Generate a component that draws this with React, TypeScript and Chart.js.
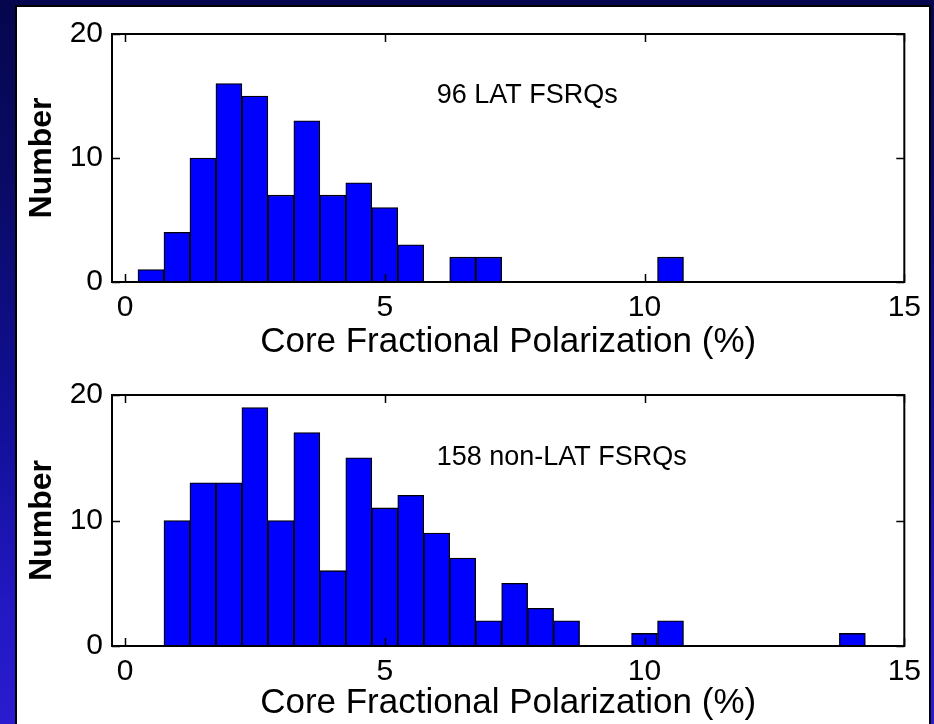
import { useEffect, useRef } from "react";
import { Chart, registerables } from "chart.js";

Chart.register(...registerables);

// Histogram bin centres (%), bins are 0.5% wide
const binCentres = [
  0.5, 1.0, 1.5, 2.0, 2.5, 3.0, 3.5, 4.0, 4.5, 5.0, 5.5, 6.0, 6.5, 7.0, 7.5,
  8.0, 8.5, 9.0, 9.5, 10.0, 10.5, 11.0, 11.5, 12.0, 12.5, 13.0, 13.5, 14.0, 14.5,
];

// Counts per bin, gamma-ray detected (LAT) FSRQs
const latCounts = [
  1, 4, 10, 16, 15, 7, 13, 7, 8, 6, 3, 0, 2, 2, 0,
  0, 0, 0, 0, 0, 2, 0, 0, 0, 0, 0, 0, 0, 0,
];

// Counts per bin, non-LAT FSRQs
const nonLatCounts = [
  0, 10, 13, 13, 19, 10, 17, 6, 15, 11, 12, 9, 7, 2, 5,
  3, 2, 0, 0, 1, 2, 0, 0, 0, 0, 0, 0, 1, 0,
];

const xTicks = [0, 5, 10, 15];
const yTicks = [0, 10, 20];

const xTitle = "Core Fractional Polarization (%)";
const yTitle = "Number";
const latLabel = "96 LAT FSRQs";
const nonLatLabel = "158 non-LAT FSRQs";

const FONT = "'Liberation Sans', Arial, Helvetica, sans-serif";

// Draws a closed axes box with inward tick marks on all four sides,
// plus a text annotation placed in data coordinates.
const boxAxes = {
  id: "boxAxes",
  afterDatasetsDraw(chart: any, _args: any, opts: any) {
    const { ctx, chartArea: a, scales } = chart;
    const xs = scales.x;
    const ys = scales.y;
    const tl = 8;
    ctx.save();
    ctx.strokeStyle = "#000";
    ctx.lineWidth = 1.5;
    ctx.beginPath();
    for (const t of xs.ticks) {
      const px = Math.round(xs.getPixelForValue(t.value)) + 0.5;
      ctx.moveTo(px, a.bottom);
      ctx.lineTo(px, a.bottom - tl);
      ctx.moveTo(px, a.top);
      ctx.lineTo(px, a.top + tl);
    }
    for (const t of ys.ticks) {
      const py = Math.round(ys.getPixelForValue(t.value)) + 0.5;
      ctx.moveTo(a.left, py);
      ctx.lineTo(a.left + tl, py);
      ctx.moveTo(a.right, py);
      ctx.lineTo(a.right - tl, py);
    }
    ctx.stroke();
    ctx.lineWidth = 2;
    ctx.strokeRect(a.left, a.top, a.right - a.left, a.bottom - a.top);

    ctx.fillStyle = "#000";
    ctx.font = `27px ${FONT}`;
    ctx.textAlign = "left";
    ctx.textBaseline = "middle";
    ctx.fillText(opts.text, xs.getPixelForValue(opts.x), ys.getPixelForValue(opts.y));
    ctx.restore();
  },
};

type HistProps = {
  counts: number[];
  label: string;
  left: number;
  top: number;
  width: number;
  height: number;
  padTop: number;
  xAxisHeight: number;
  titleGap: number;
};

function Histogram(p: HistProps) {
  const ref = useRef<HTMLCanvasElement | null>(null);

  useEffect(() => {
    if (!ref.current) return;
    const chart = new Chart(ref.current, {
      type: "bar",
      data: {
        datasets: [
          {
            label: p.label,
            data: binCentres.map((c, i) => ({ x: c, y: p.counts[i] || null })) as any,
            backgroundColor: "#0000ff",
            borderColor: "#000000",
            borderWidth: 1.3,
            borderSkipped: false,
            barPercentage: 1,
            categoryPercentage: 1,
          },
        ],
      },
      options: {
        animation: false,
        responsive: false,
        maintainAspectRatio: false,
        layout: { padding: { top: p.padTop, right: 24, left: 0, bottom: 0 } },
        plugins: {
          legend: { display: false },
          tooltip: { enabled: false },
          boxAxes: { text: p.label, x: 6.0, y: 15.0 },
        } as any,
        scales: {
          x: {
            type: "linear",
            min: -0.25,
            max: 15,
            offset: false,
            afterBuildTicks: (s: any) => {
              s.ticks = xTicks.map((v) => ({ value: v }));
            },
            afterFit: (s: any) => {
              s.height = p.xAxisHeight;
            },
            grid: { display: false, drawTicks: false },
            border: { display: false },
            ticks: {
              padding: 8,
              color: "#000",
              maxRotation: 0,
              autoSkip: false,
              font: { family: FONT, size: 30 },
            },
            title: {
              display: true,
              text: xTitle,
              color: "#000",
              font: { family: FONT, size: 35 },
              padding: { top: 0, bottom: p.titleGap },
            },
          },
          y: {
            type: "linear",
            min: 0,
            max: 20,
            afterBuildTicks: (s: any) => {
              s.ticks = yTicks.map((v) => ({ value: v }));
            },
            afterFit: (s: any) => {
              s.width = 95;
            },
            grid: { display: false, drawTicks: false },
            border: { display: false },
            ticks: {
              padding: 9,
              color: "#000",
              font: { family: FONT, size: 30 },
            },
            title: {
              display: true,
              text: yTitle,
              color: "#000",
              font: { family: FONT, size: 32, weight: "bold" },
              padding: { top: 6, bottom: 0 },
            },
          },
        },
      } as any,
      plugins: [boxAxes],
    });
    return () => chart.destroy();
  }, []);

  return (
    <canvas
      ref={ref}
      width={p.width}
      height={p.height}
      style={{
        position: "absolute",
        left: p.left,
        top: p.top,
        width: p.width,
        height: p.height,
        display: "block",
      }}
    />
  );
}

export default function App() {
  return (
    <div
      style={{
        position: "absolute",
        left: 0,
        top: 0,
        width: 934,
        height: 724,
        overflow: "hidden",
        background:
          "linear-gradient(to bottom, #06064e 0%, #0a0a66 25%, #12109a 60%, #2418c4 85%, #2a1ccf 100%)",
      }}
    >
      <div
        style={{
          position: "absolute",
          left: 15,
          top: 5,
          width: 916,
          height: 740,
          background: "#ffffff",
          border: "2px solid #000",
          boxSizing: "border-box",
        }}
      />
      <Histogram
        counts={latCounts}
        label={latLabel}
        left={17}
        top={7}
        width={912}
        height={358}
        padTop={25}
        xAxisHeight={83}
        titleGap={2}
      />
      <Histogram
        counts={nonLatCounts}
        label={nonLatLabel}
        left={17}
        top={365}
        width={912}
        height={359}
        padTop={30}
        xAxisHeight={78}
        titleGap={0}
      />
    </div>
  );
}
